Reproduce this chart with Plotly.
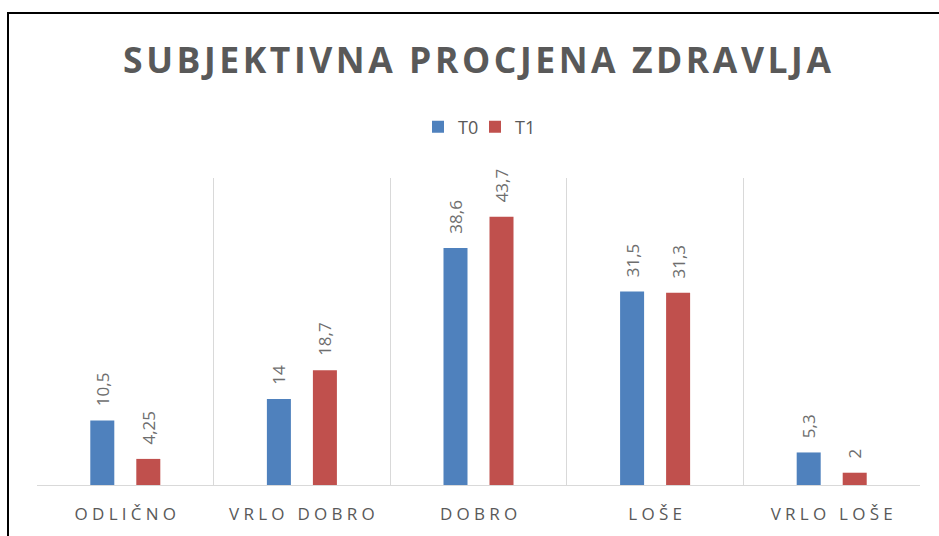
import plotly.graph_objects as go

categories = ["ODLIČNO", "VRLO DOBRO", "DOBRO", "LOŠE", "VRLO LOŠE"]
series_names = ["T0", "T1"]
t0_values = [10.5, 14, 38.6, 31.5, 5.3]
t1_values = [4.25, 18.7, 43.7, 31.3, 2]
colors = ["#4F81BD", "#C0504D"]

TXT = "#595959"
LBL = "#6E6E6E"
W, H = 939, 536
ML, MR, MT, MB = 37, 19, 178, 51
PW = W - ML - MR
PH = H - MT - MB


def spaced(s, sep="\u2005"):
    out = []
    for ch in s:
        if ch == " ":
            out.append("\u00a0")
        else:
            out.append(ch)
    return sep.join(out)


def fmt(v):
    s = ("%g" % v)
    return "\u2002\u2009" + s.replace(".", ",")


fig = go.Figure()
for name, vals, col in zip(series_names, [t0_values, t1_values], colors):
    fig.add_trace(go.Bar(
        name=name, x=categories, y=vals,
        marker=dict(color=col, line=dict(width=0)),
        text=[fmt(v) for v in vals],
        textposition="outside", textangle=-90,
        constraintext="none", cliponaxis=False,
        textfont=dict(family="Open Sans", size=17, color=LBL),
    ))

title_text = spaced("SUBJEKTIVNA PROCJENA ZDRAVLJA", "\u200a")

fig.update_layout(
    width=W, height=H,
    margin=dict(l=ML, r=MR, t=MT, b=MB, pad=0),
    paper_bgcolor="white", plot_bgcolor="white",
    barmode="group", bargap=0.479, bargroupgap=0.478,
    title=dict(text=title_text, x=(477 - ML) / PW, xref="paper", xanchor="center",
               y=1 - 61 / H, yref="container", yanchor="middle",
               font=dict(family="Open Sans", size=35.5, color=TXT, weight="bold")),
    legend=dict(orientation="h", x=(475 - ML) / PW, xanchor="center",
                y=(MT + PH - 127) / PH, yanchor="middle",
                font=dict(family="Open Sans", size=18, color=TXT),
                itemwidth=30, entrywidth=12, entrywidthmode="pixels",
                traceorder="normal"),
    xaxis=dict(tickmode="array", tickvals=categories,
               ticktext=[spaced(c) for c in categories],
               tickson="boundaries", ticks="", showgrid=True,
               gridcolor="#D9D9D9", gridwidth=1.3,
               showline=True, linecolor="#D9D9D9", linewidth=1.3,
               tickfont=dict(family="Open Sans", size=17, color=TXT),
               ticklabelstandoff=13),
    yaxis=dict(range=[0, 50], visible=False, showgrid=False, zeroline=False),
    font=dict(family="Open Sans", color=TXT),
    showlegend=True,
)

# outer chart border (extends past right and bottom edges)
fig.add_shape(type="rect", xref="paper", yref="paper",
              x0=(8 - ML) / PW, x1=(W + 40 - ML) / PW,
              y0=-(H + 40 - MT - PH) / PH, y1=(MT + PH - 13) / PH,
              line=dict(color="black", width=2), fillcolor="rgba(0,0,0,0)", layer="above")

fig.write_html("out.html")
